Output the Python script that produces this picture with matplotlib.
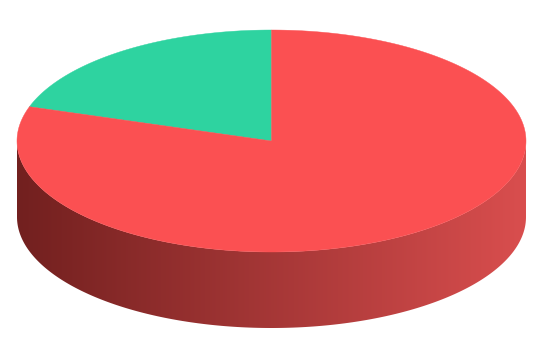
import matplotlib
matplotlib.use('Agg')
import numpy as np
import matplotlib.pyplot as plt
from matplotlib.patches import Polygon
from matplotlib.colors import LinearSegmentedColormap

# data
labels = ['B', 'A']
values = [20, 80]
top_colors = ['#2ED3A0', '#FB5052']
side_dark = ['#16694F', '#72201F']
side_light = ['#27B88A', '#D94E4E']

# geometry of the 3d pie (pixels)
CX, CY = 271.5, 141
A, B = 254.5, 111
DEPTH = 76
START = 90  # degrees, counter-clockwise from 3 o'clock

fig = plt.figure(figsize=(5.41, 3.44), dpi=100)
ax = fig.add_axes([0, 0, 1, 1])
ax.set_xlim(0, 541)
ax.set_ylim(344, 0)
ax.axis('off')
fig.patch.set_facecolor('white')


def ellipse_pt(t, dy=0):
    t = np.radians(t)
    return CX + A * np.cos(t), CY - B * np.sin(t) + dy


total = float(sum(values))
angles = [START]
for v in values:
    angles.append(angles[-1] + 360.0 * v / total)

# sides first (only the front half, 180..360 deg, is visible)
for i in range(len(values)):
    a0, a1 = angles[i], angles[i + 1]
    for k in (-1, 0, 1):
        lo = max(a0, 180 + 360 * k)
        hi = min(a1, 360 + 360 * k)
        if hi <= lo:
            continue
        t = np.linspace(lo, hi, 200)
        xs, ys = ellipse_pt(t)
        xb, yb = ellipse_pt(t[::-1], DEPTH)
        poly = Polygon(np.column_stack([np.r_[xs, xb], np.r_[ys, yb]]),
                       closed=True, facecolor='none', edgecolor='none')
        ax.add_patch(poly)
        cmap = LinearSegmentedColormap.from_list('side', [side_dark[i], side_light[i]])
        grad = np.linspace(0, 1, 256).reshape(1, -1)
        im = ax.imshow(grad, cmap=cmap, aspect='auto',
                       extent=(CX - A, CX + A, CY + B + DEPTH + 2, CY - 2),
                       interpolation='bilinear', zorder=2)
        im.set_clip_path(poly)

# top faces
for i in range(len(values)):
    t = np.linspace(angles[i], angles[i + 1], 300)
    xs, ys = ellipse_pt(t)
    pts = np.column_stack([np.r_[CX, xs], np.r_[CY, ys]])
    ax.add_patch(Polygon(pts, closed=True, facecolor=top_colors[i],
                         edgecolor=top_colors[i], linewidth=0.3, zorder=3))

plt.savefig('out.png', dpi=100, facecolor='white')
